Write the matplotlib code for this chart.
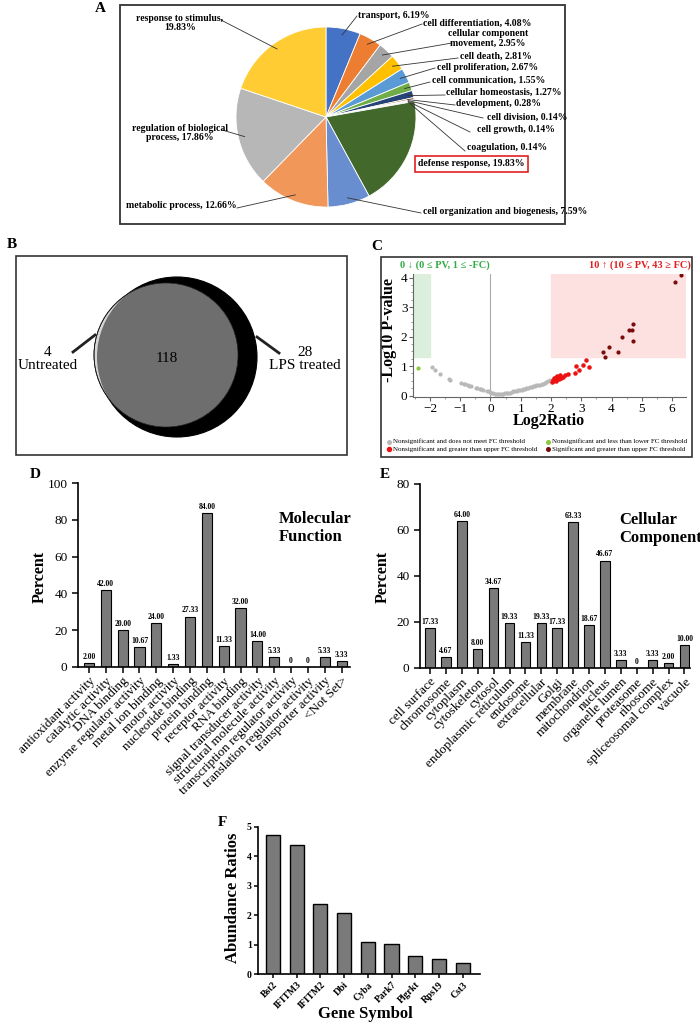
import numpy as np
import matplotlib
matplotlib.use('Agg')
import matplotlib.pyplot as plt
from matplotlib.patches import Circle, Rectangle

plt.rcParams['font.family'] = ['Liberation Serif', 'DejaVu Serif']

W, H = 700, 1024

# ---- panel A: GO biological process pie
pie_names = ["transport", "cell differentiation", "cellular component\nmovement",
             "cell death", "cell proliferation", "cell communication",
             "cellular homeostasis", "development", "cell division", "cell growth",
             "coagulation", "defense response", "cell organization and biogenesis",
             "metabolic process", "regulation of biological\nprocess",
             "response to stimulus"]
pie_values = [6.19, 4.08, 2.95, 2.81, 2.67, 1.55, 1.27, 0.28, 0.14, 0.14,
              0.14, 19.83, 7.59, 12.66, 17.86, 19.83]
pie_colors = ["#4472C4", "#ED7D31", "#A5A5A5", "#FFC000", "#5B9BD5", "#70AD47",
              "#264478", "#9E480E", "#636363", "#997300", "#255E91", "#43682B",
              "#698ED0", "#F1975A", "#B7B7B7", "#FFCD33"]

# ---- panel B: venn counts
venn_only_untreated = 4
venn_shared = 118
venn_only_lps = 28

# ---- panel C: volcano
gray_x = [-1.93, -1.84, -1.66, -1.37, -1.33, -0.96, -0.88, -0.85, -0.74, -0.70,
          -0.63, -0.49, -0.45, -0.36, -0.30, -0.25, -0.12, -0.05, -0.02, 0.03,
          0.09, 0.14, 0.20, 0.26, 0.31, 0.37, 0.42, 0.48, 0.53, 0.58, 0.64, 0.70,
          0.75, 0.80, 0.86, 0.92, 0.97, 1.03, 1.08, 1.14, 1.19, 1.25, 1.30, 1.36,
          1.41, 1.47, 1.52, 1.58, 1.63, 1.69, 1.74, 1.80, 1.85, 1.90, 1.95]
gray_y = [0.96, 0.87, 0.74, 0.56, 0.52, 0.42, 0.40, 0.38, 0.35, 0.33,
          0.32, 0.25, 0.24, 0.23, 0.21, 0.19, 0.16, 0.14, 0.11, 0.09,
          0.08, 0.06, 0.05, 0.04, 0.05, 0.04, 0.06, 0.07, 0.08, 0.09, 0.10, 0.12,
          0.14, 0.15, 0.16, 0.18, 0.19, 0.20, 0.22, 0.23, 0.25, 0.26, 0.28, 0.29,
          0.31, 0.32, 0.34, 0.35, 0.36, 0.38, 0.40, 0.43, 0.47, 0.50, 0.53]
green_x = [-2.40]
green_y = [0.95]
red_x = [2.02, 2.05, 2.08, 2.10, 2.12, 2.15, 2.18, 2.20, 2.22, 2.25, 2.28,
         2.30, 2.33, 2.38, 2.45, 2.55, 2.80, 2.82, 2.94, 3.07, 3.16, 3.24]
red_y = [0.45, 0.52, 0.48, 0.58, 0.55, 0.62, 0.50, 0.66, 0.60, 0.55, 0.64,
         0.70, 0.58, 0.62, 0.68, 0.73, 0.75, 1.00, 0.87, 1.04, 1.21, 0.98]
sig_x = [3.73, 3.78, 3.92, 4.20, 4.34, 4.57, 4.69, 4.70, 4.72, 6.10, 6.29]
sig_y = [1.46, 1.30, 1.63, 1.48, 2.00, 2.23, 2.22, 2.42, 1.86, 3.84, 4.07]

# ---- panel D: molecular function
mf_cats = ["antioxidant activity", "catalytic activity", "DNA binding",
           "enzyme regulator activity", "metal ion binding", "motor activity",
           "nucleotide binding", "protein binding", "receptor activity",
           "RNA binding", "signal transducer activity",
           "structural molecule activity", "transcription regulator activity",
           "translation regulator activity", "transporter activity", "<Not Set>"]
mf_vals = [2.00, 42.00, 20.00, 10.67, 24.00, 1.33, 27.33, 84.00, 11.33,
           32.00, 14.00, 5.33, 0, 0, 5.33, 3.33]

# ---- panel E: cellular component
cc_cats = ["cell surface", "chromosome", "cytoplasm", "cytoskeleton", "cytosol",
           "endoplasmic reticulum", "endosome", "extracellular", "Golgi",
           "membrane", "mitochondrion", "nucleus", "organelle lumen",
           "proteasome", "ribosome", "spliceosomal complex", "vacuole"]
cc_vals = [17.33, 4.67, 64.00, 8.00, 34.67, 19.33, 11.33, 19.33, 17.33,
           63.33, 18.67, 46.67, 3.33, 0, 3.33, 2.00, 10.00]

# ---- panel F: abundance ratios
genes = ["Bst2", "IFITM3", "IFITM2", "Dbi", "Cyba", "Park7", "Plgrkt", "Rps19", "Cst3"]
ratios = [4.72, 4.38, 2.36, 2.08, 1.07, 1.01, 0.61, 0.51, 0.37]


fig = plt.figure(figsize=(7, 10.24), dpi=100)
ov = fig.add_axes([0, 0, 1, 1])
ov.set_xlim(0, W)
ov.set_ylim(H, 0)
ov.axis('off')
ov.set_zorder(5)  # overlay for boxes, letters and free text


def px_axes(x0, y0, x1, y1):
    return fig.add_axes([x0 / W, 1 - y1 / H, (x1 - x0) / W, (y1 - y0) / H])


def label_at(ax, which, x, y):
    b = ax.get_position()
    fx, fy = x / W, 1 - y / H
    coords = ((fx - b.x0) / b.width, (fy - b.y0) / b.height)
    if which == 'x':
        ax.xaxis.set_label_coords(*coords)
    else:
        ax.yaxis.set_label_coords(*coords)


def letter(s, x, y):
    ov.text(x, y, s, fontsize=11, fontweight='bold', ha='center', va='center')


# ================= A
ov.add_patch(Rectangle((120, 5), 445, 219, fill=False, ec='#333333', lw=1.3))
letter('A', 100, 8)
cx, cy, r = 326, 117, 90
ax_pie = px_axes(cx - r, cy - r, cx + r, cy + r)
wedges, _ = ax_pie.pie(pie_values, colors=pie_colors, startangle=90,
                       counterclock=False,
                       wedgeprops=dict(edgecolor='white', linewidth=0.6))
ax_pie.set_xlim(-1, 1)
ax_pie.set_ylim(-1, 1)

# text x, text y, ha, line start x, line start y
pie_text_pos = [
    (358, 15, 'left', 357, 16),
    (423, 23, 'left', 422, 24),
    (488, 38, 'center', 452, 43),
    (460, 56, 'left', 458, 58),
    (437, 68, 'left', 435, 68),
    (432, 80, 'left', 430, 82),
    (446, 92, 'left', 445, 95),
    (456, 104, 'left', 455, 105),
    (487, 117, 'left', 483, 118),
    (477, 130, 'left', 470, 132),
    (467, 147, 'left', 465, 151),
    (418, 164, 'left', None, None),
    (423, 212, 'left', 421, 213),
    (237, 205, 'right', 237, 208),
    (180, 133, 'center', 222, 130),
    (180, 23, 'center', 221, 20),
]
for w, name, val, (tx, ty, ha, lx, ly) in zip(wedges, pie_names, pie_values, pie_text_pos):
    sep = ",\n" if name == "response to stimulus" else ", "
    txt = f"{name}{sep}{val:.2f}%"
    kw = {}
    if name == "defense response":
        kw['bbox'] = dict(boxstyle='square,pad=0.35', fc='white', ec='#e02020', lw=1.2)
    ov.text(tx, ty, txt, fontsize=7, fontweight='bold', ha=ha, va='center',
            multialignment='center', linespacing=1.1, **kw)
    if lx is not None:
        th = np.deg2rad((w.theta1 + w.theta2) / 2)
        ex = cx + 0.93 * r * np.cos(th)
        ey = cy - 0.93 * r * np.sin(th)
        ov.plot([lx, ex], [ly, ey], color='#333333', lw=0.6)

# ================= B
ov.add_patch(Rectangle((16, 256), 331, 199, fill=False, ec='#333333', lw=1.2))
letter('B', 12, 245)
big = Circle((177, 357), 80, fc='black', ec='black', lw=0.8)
ov.add_patch(big)
ov.add_patch(Circle((166, 355), 72, fc='#d6d6d6', ec='black', lw=0.6))
inter = Circle((166, 355), 72, fc='#6e6e6e', ec='none')
ov.add_patch(inter)
inter.set_clip_path(big)
ov.add_patch(Circle((166, 355), 72, fc='none', ec='#222222', lw=0.5))
ov.text(48, 359, f"{venn_only_untreated}\nUntreated", fontsize=11, ha='center', va='center', linespacing=1.0)
ov.text(167, 359, f"{venn_shared}", fontsize=11, ha='center', va='center')
ov.text(305, 359, f"{venn_only_lps}\nLPS treated", fontsize=11, ha='center', va='center', linespacing=1.0)
ov.plot([73, 95], [352, 335], color='#222222', lw=2)
ov.plot([257, 279], [337, 353], color='#222222', lw=2)

# ================= C
ov.add_patch(Rectangle((381, 257), 311, 200, fill=False, ec='#333333', lw=1.2))
letter('C', 377, 246)
ax_v = px_axes(413, 274, 686, 397)
ax_v.set_xlim(-2.56, 6.46)
ax_v.set_ylim(-0.05, 4.12)
ax_v.axvspan(-2.56, -2, ymin=(1.3 + 0.05) / 4.17, ymax=1, color='#dcefdc', zorder=0)
ax_v.axvspan(2, 6.46, ymin=(1.3 + 0.05) / 4.17, ymax=1, color='#fde0e0', zorder=0)
ax_v.axvline(0, color='#aaaaaa', lw=0.8, zorder=1)
h_gray = ax_v.scatter(gray_x, gray_y, s=4, color='#b8b8b8', zorder=2,
                      label='Nonsignificant and does not meet FC threshold')
h_green = ax_v.scatter(green_x, green_y, s=4, color='#8cc63f', zorder=2,
                       label='Nonsignificant and less than lower FC threshold')
h_red = ax_v.scatter(red_x, red_y, s=5, color='#ee1111', zorder=2,
                     label='Nonsignificant and greater than upper FC threshold')
h_sig = ax_v.scatter(sig_x, sig_y, s=4, color='#7a0a0a', zorder=2,
                     label='Significant and greater than upper FC threshold')
for s in ['top', 'right']:
    ax_v.spines[s].set_visible(False)
for s in ['left', 'bottom']:
    ax_v.spines[s].set_color('#666666')
ax_v.set_xticks(range(-2, 7))
ax_v.set_yticks(range(0, 5))
ax_v.set_xticks(np.arange(-2.5, 6.5, 0.5), minor=True)
ax_v.set_yticks(np.arange(0, 4.1, 0.25), minor=True)
ax_v.tick_params(labelsize=9.5, length=3, color='#666666', pad=1)
ax_v.tick_params(which='minor', length=1.5, color='#888888')
ax_v.set_xlabel('Log2Ratio', fontsize=11.5, fontweight='bold', va='center')
ax_v.set_ylabel('-Log10 P-value', fontsize=11.5, fontweight='bold', va='center')
label_at(ax_v, 'x', 549, 421)
label_at(ax_v, 'y', 389, 330)
ov.text(445, 265, "0 \u2193 (0 \u2264 PV, 1 \u2264 -FC)", color='#33aa44', fontsize=7.5,
        fontweight='bold', ha='center', va='center')
ov.text(640, 265, "10 \u2191 (10 \u2264 PV, 43 \u2265 FC)", color='#e02020', fontsize=7.5,
        fontweight='bold', ha='center', va='center')
fig.legend(handles=[h_gray, h_red, h_green, h_sig], ncol=2, fontsize=5,
           loc='upper left', bbox_to_anchor=(383 / W, 1 - 435 / H), frameon=False,
           handletextpad=0.1, columnspacing=1.2, labelspacing=0.25,
           borderpad=0, handlelength=0.8, markerscale=1.3)


def bar_panel(ax, cats, vals, ymax, ystep, title, tx, ty):
    x = np.arange(len(cats))
    bars = ax.bar(x, vals, width=0.6, color='#7a7a7a', edgecolor='black', lw=0.8)
    ax.bar_label(bars, fmt=lambda v: '0' if v == 0 else f'{v:.2f}', fontsize=5.5,
                 fontweight='bold', padding=1.5)
    ax.set_ylim(0, ymax)
    ax.set_yticks(np.arange(0, ymax + 1, ystep))
    ax.set_xticks(x)
    ax.set_xticklabels(cats, rotation=45, ha='right', rotation_mode='anchor', fontsize=9)
    for s in ['top', 'right']:
        ax.spines[s].set_visible(False)
    for s in ['left', 'bottom']:
        ax.spines[s].set_linewidth(1.2)
    ax.tick_params(labelsize=9.5, width=1.1, length=4)
    ax.tick_params(axis='x', pad=2)
    ax.set_ylabel('Percent', fontsize=11.5, fontweight='bold', va='center')
    ov.text(tx, ty, title, fontsize=12, fontweight='bold', ha='left', va='top', linespacing=1.15)


# ================= D
letter('D', 35, 475)
ax_d = px_axes(78, 483.3, 350, 666.7)
ax_d.set_xlim(-0.65, 15.5)
bar_panel(ax_d, mf_cats, mf_vals, 100, 20, 'Molecular\nFunction', 279, 511)
label_at(ax_d, 'y', 40, 577)

# ================= E
letter('E', 385, 475)
ax_e = px_axes(420, 484, 690, 667.7)
ax_e.set_xlim(-0.63, 16.35)
bar_panel(ax_e, cc_cats, cc_vals, 80, 20, 'Cellular\nComponent', 619, 512)
label_at(ax_e, 'y', 383, 577)

# ================= F
letter('F', 222, 822)
ax_f = px_axes(258, 826.7, 480, 974)
xf = np.arange(len(genes))
ax_f.bar(xf, ratios, width=0.6, color='#7a7a7a', edgecolor='black', lw=1.0)
ax_f.set_xlim(-0.63, 8.73)
ax_f.set_ylim(0, 5)
ax_f.set_xticks(xf)
ax_f.set_xticklabels(genes, rotation=45, ha='right', rotation_mode='anchor',
                     fontsize=7, fontweight='bold')
for t in ax_f.get_yticklabels():
    t.set_fontweight('bold')
ax_f.tick_params(labelsize=7, width=1.1, length=3, pad=1.5)
for s in ['top', 'right']:
    ax_f.spines[s].set_visible(False)
for s in ['left', 'bottom']:
    ax_f.spines[s].set_linewidth(1.2)
ax_f.set_ylabel('Abundance Ratios', fontsize=12, fontweight='bold', va='center')
ax_f.set_xlabel('Gene Symbol', fontsize=12, fontweight='bold', va='center')
label_at(ax_f, 'y', 233, 898)
label_at(ax_f, 'x', 365, 1014)

fig.savefig('out.png', dpi=100)
